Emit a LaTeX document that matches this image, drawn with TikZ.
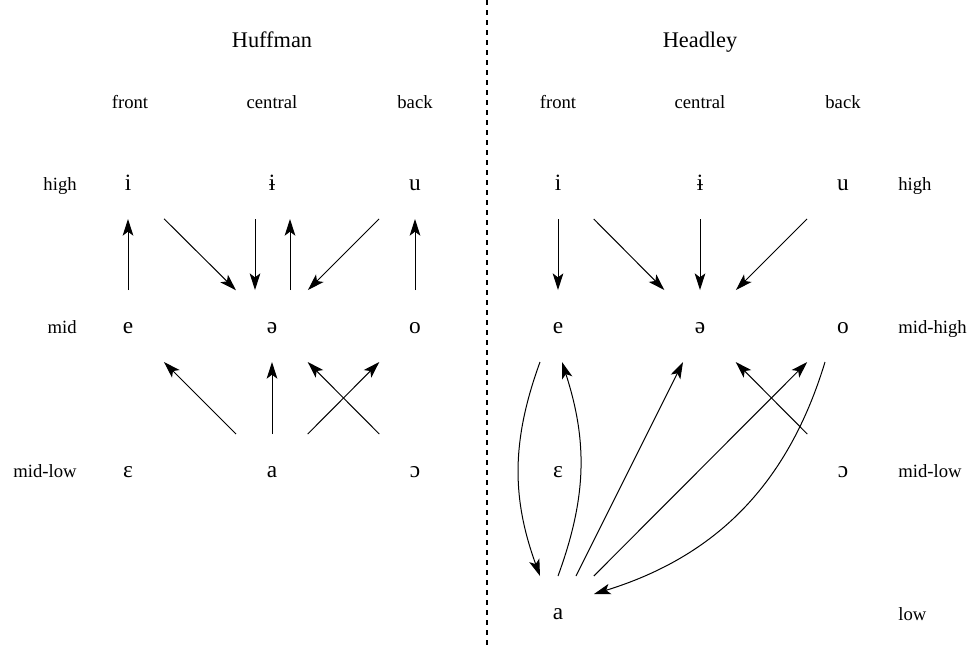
\documentclass[tikz,border=0pt]{standalone}
\usepackage{fontspec}
\setmainfont{Liberation Serif}
\usetikzlibrary{arrows.meta}

\begin{document}
\begin{tikzpicture}[
  x=0.6pt, y=-0.6pt,
  vow/.style={rectangle, minimum width=43.2pt, minimum height=43.2pt, inner sep=0pt, outer sep=0pt, text height=9pt, text depth=0pt, font=\fontsize{14}{16}\selectfont},
  lab/.style={font=\fontsize{11.2}{13}\selectfont, inner sep=0pt},
  ttl/.style={font=\fontsize{13.4}{16}\selectfont, inner sep=0pt, anchor=base},
  arr/.style={-{Stealth[length=10pt,width=6.4pt,inset=2.4pt]}, line width=0.6pt},
  divider/.style={dash pattern=on 3pt off 3pt, line width=1.2pt}
]
\useasboundingbox (0,0) rectangle (971,646);

\coordinate (top) at (487,0);
\coordinate (bot) at (487,646);
\draw[divider] (top) -- (bot);

\node[ttl] (huff) at (272,47) {Huffman};
\node[ttl] (head) at (700,47) {Headley};

\node[lab, anchor=base] (front1) at (130,108) {front};
\node[lab, anchor=base] (cent1)  at (272,108) {central};
\node[lab, anchor=base] (back1)  at (415,108) {back};
\node[lab, anchor=base] (front2) at (558,108) {front};
\node[lab, anchor=base] (cent2)  at (700,108) {central};
\node[lab, anchor=base] (back2)  at (843,108) {back};

\node[lab, anchor=base east] (high1)   at (77,190) {high};
\node[lab, anchor=base east] (mid1)    at (77,333) {mid};
\node[lab, anchor=base east] (midlow1) at (77,477) {mid-low};
\node[lab, anchor=base west] (high2)   at (898,190) {high};
\node[lab, anchor=base west] (midhi2)  at (898,333) {mid-high};
\node[lab, anchor=base west] (midlow2) at (898,477) {mid-low};
\node[lab, anchor=base west] (low2)    at (898,620) {low};

\node[vow] (i1)     at (128,183) {i};
\node[vow] (ibar1)  at (272,183) {ɨ};
\node[vow] (u1)     at (415,183) {u};
\node[vow] (e1)     at (128,326) {e};
\node[vow] (schwa1) at (272,326) {ə};
\node[vow] (o1)     at (415,326) {o};
\node[vow] (eps1)   at (128,470) {ɛ};
\node[vow] (a1)     at (272,470) {a};
\node[vow] (open1)  at (415,470) {ɔ};

\node[vow] (i2)     at (558,183) {i};
\node[vow] (ibar2)  at (700,183) {ɨ};
\node[vow] (u2)     at (843,183) {u};
\node[vow] (e2)     at (558,326) {e};
\node[vow] (schwa2) at (700,326) {ə};
\node[vow] (o2)     at (843,326) {o};
\node[vow] (eps2)   at (558,470) {ɛ};
\node[vow] (open2)  at (843,470) {ɔ};
\node[vow] (a2)     at (558,612) {a};

\draw[arr] (e1) -- (i1);
\draw[arr] (i1) -- (schwa1);
\draw[arr] ([xshift=-10.2pt]ibar1.south) -- ([xshift=-10.2pt]schwa1.north);
\draw[arr] ([xshift=10.8pt]schwa1.north) -- ([xshift=10.8pt]ibar1.south);
\draw[arr] (u1) -- (schwa1);
\draw[arr] (o1) -- (u1);
\draw[arr] (a1) -- (e1);
\draw[arr] (a1) -- (schwa1);
\draw[arr] (a1) -- (o1);
\draw[arr] (open1) -- (schwa1);

\draw[arr] (i2) -- (e2);
\draw[arr] (i2) -- (schwa2);
\draw[arr] (ibar2) -- (schwa2);
\draw[arr] (u2) -- (schwa2);
\draw[arr] ([xshift=-10.8pt]e2.south) to[bend right=20] ([xshift=-10.8pt]a2.north);
\draw[arr] (a2.north) to[bend right=19] ([xshift=2.4pt]e2.south);
\draw[arr] ([xshift=10.8pt]a2.north) -- ([xshift=-10.2pt]schwa2.south);
\draw[arr] (a2) -- (o2);
\draw[arr] (open2) -- (schwa2);
\draw[arr] ([xshift=-10.8pt]o2.south) to[bend left=28] ([yshift=10.8pt]a2.east);
\end{tikzpicture}
\end{document}
